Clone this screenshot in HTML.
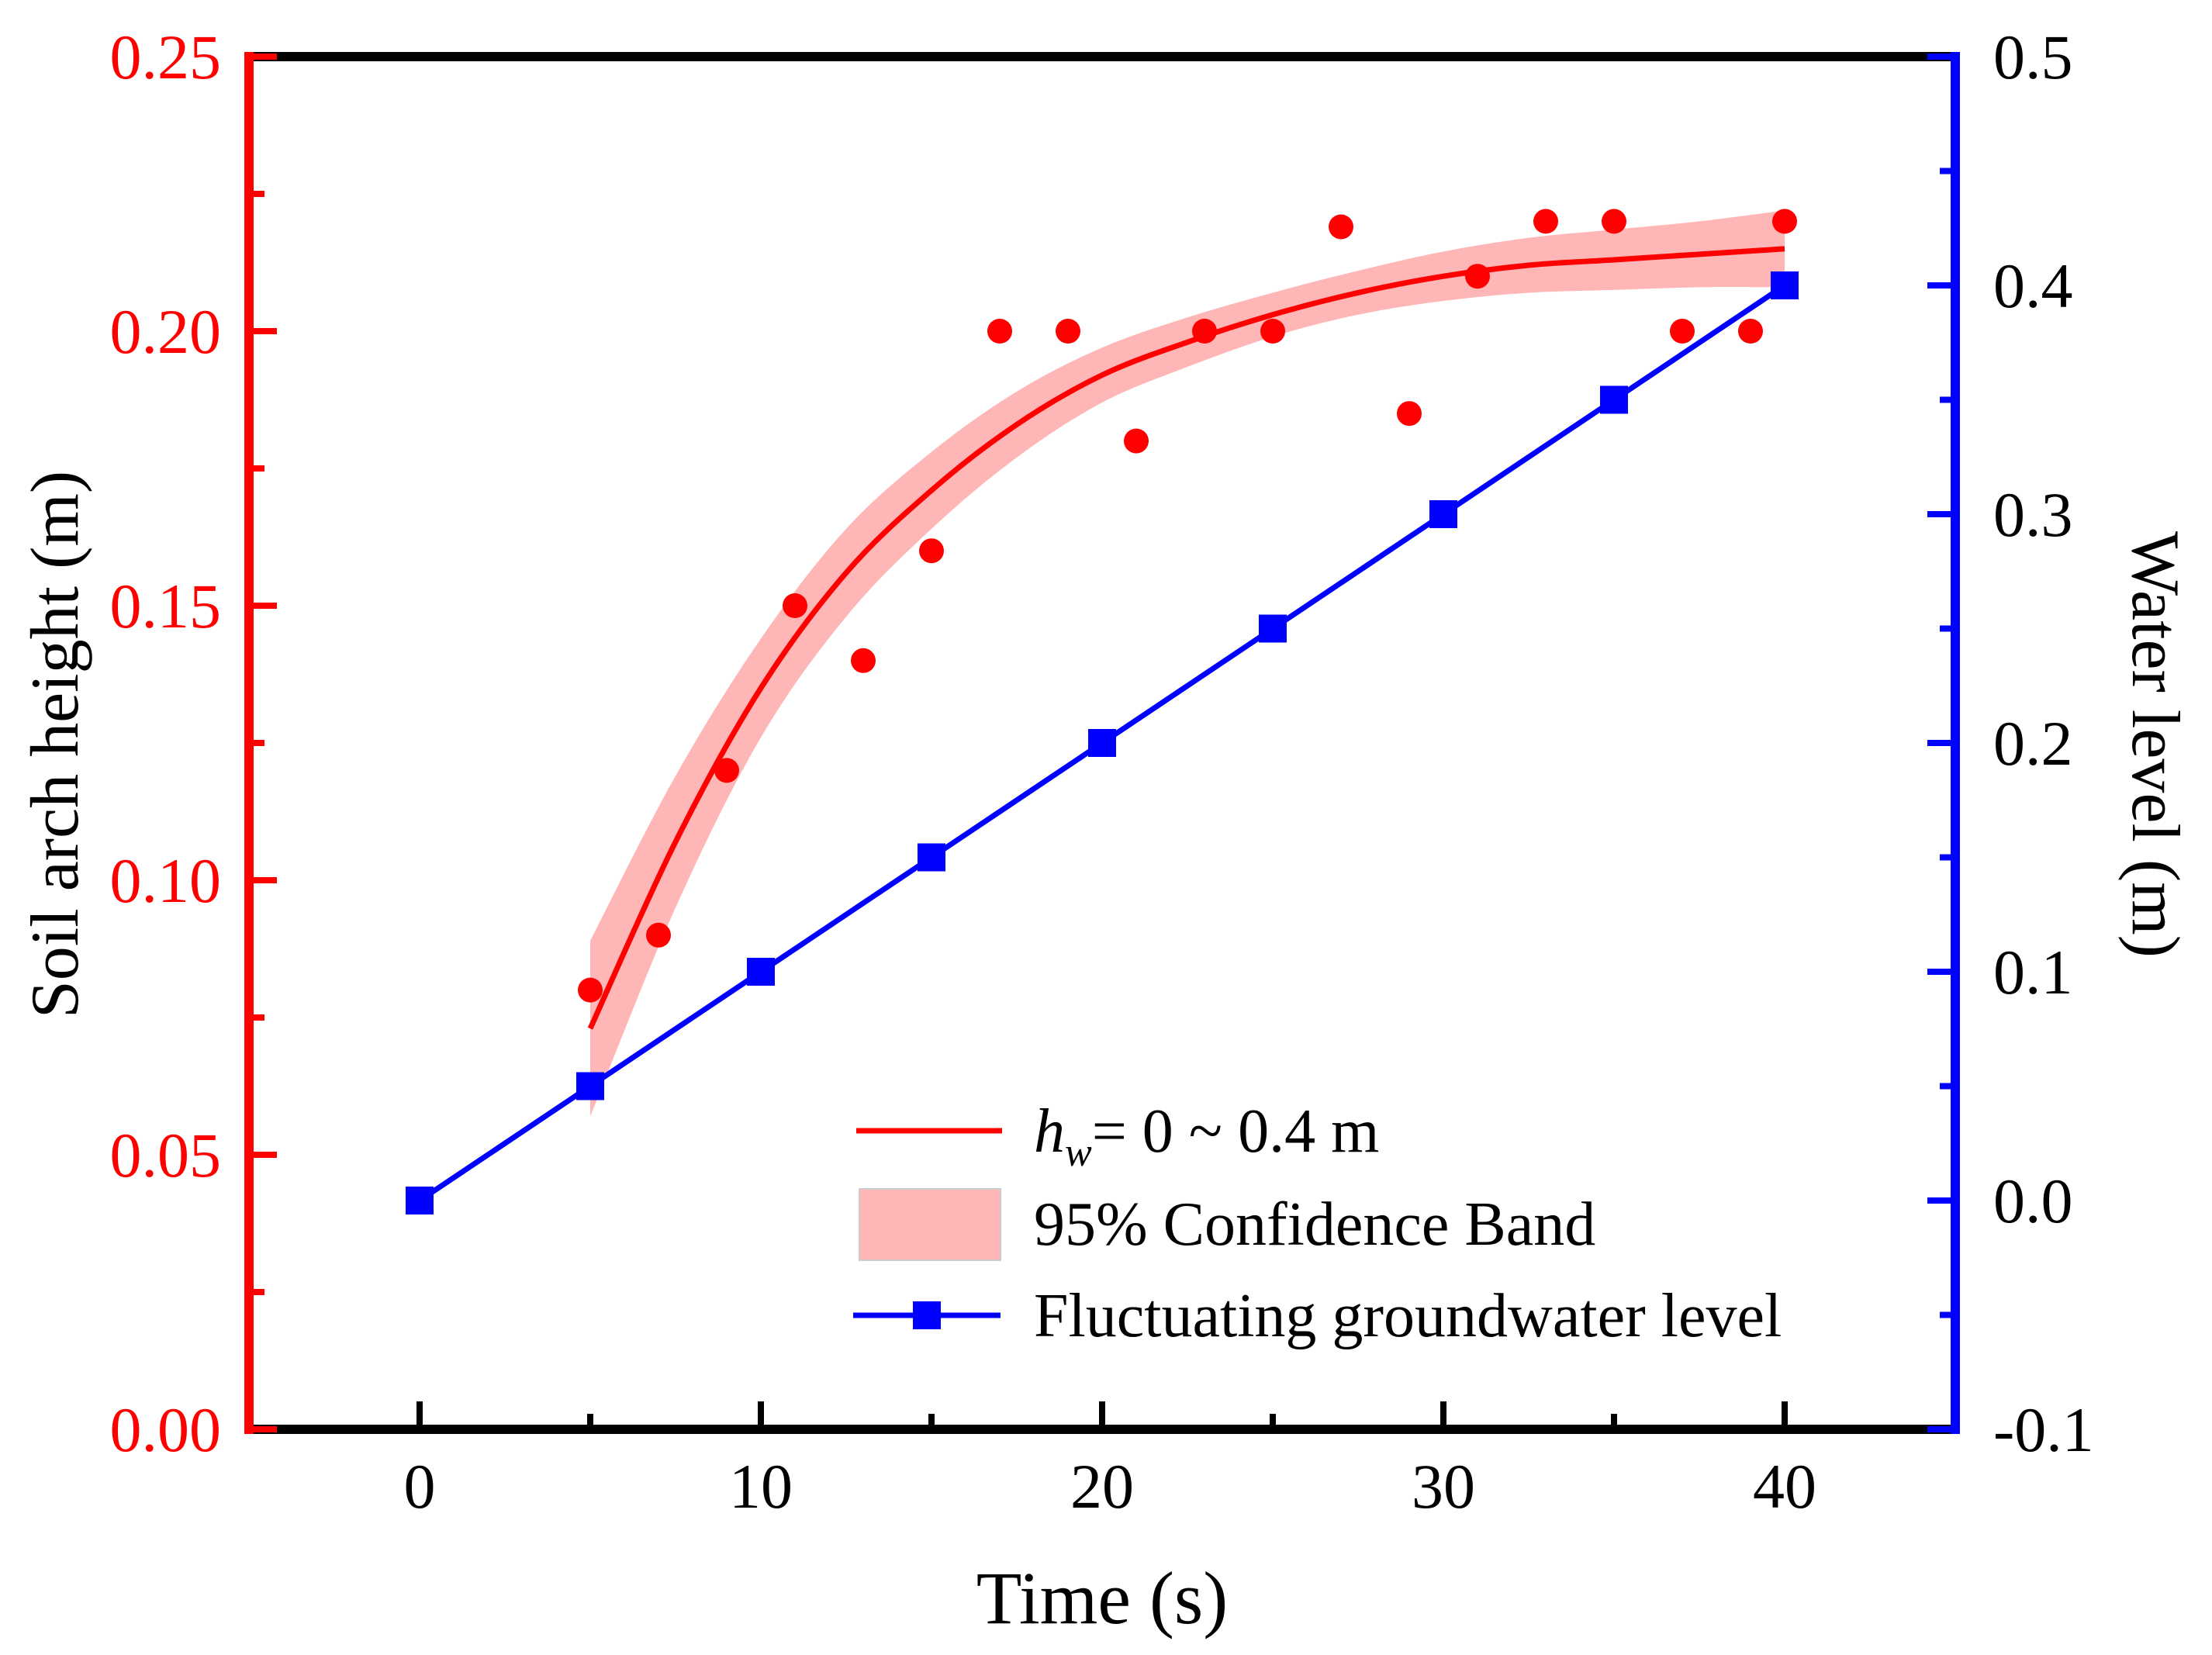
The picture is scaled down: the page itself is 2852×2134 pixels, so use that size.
<!DOCTYPE html>
<html><head><meta charset="utf-8"><style>
html,body{margin:0;padding:0;background:#fff;}
svg{display:block;font-family:"Liberation Serif",serif;}
</style></head><body>
<svg id="chart" width="2852" height="2134" viewBox="0 0 2852 2134" xmlns="http://www.w3.org/2000/svg">
<rect x="0" y="0" width="2852" height="2134" fill="#fff"/>
<g id="plot"></g>
<g id="axes"></g>
<text x="1421" y="2093" font-size="96" text-anchor="middle">Time (s)</text>
<text transform="translate(100,960) rotate(-90)" font-size="88" text-anchor="middle">Soil arch height (m)</text>
<text transform="translate(2750,960) rotate(90)" font-size="88" text-anchor="middle">Water level (m)</text>
<g>
  <line x1="1104" y1="1458" x2="1292" y2="1458" stroke="#f00" stroke-width="7"/>
  <text x="1333" y="1485" font-size="80"><tspan font-style="italic">h</tspan><tspan font-style="italic" font-size="52" dy="18">w</tspan><tspan dy="-18">= 0 ~ 0.4 m</tspan></text>
  <rect x="1108" y="1533" width="182" height="92" fill="#ffb6b6" stroke="#ccc" stroke-width="2"/>
  <text x="1333" y="1605" font-size="80">95% Confidence Band</text>
  <line x1="1100" y1="1696" x2="1290" y2="1696" stroke="#00f" stroke-width="7"/>
  <rect x="1177" y="1678" width="36" height="36" fill="#00f"/>
  <text x="1333" y="1723" font-size="80">Fluctuating groundwater level</text>
</g>
</svg>
<script>
const scatterX = [5,7,9,11,13,15,17,19,21,23,25,27,29,31,33,35,37,39,40];
const scatterY = [0.08,0.09,0.12,0.15,0.14,0.16,0.20,0.20,0.18,0.20,0.20,0.219,0.185,0.21,0.22,0.22,0.20,0.20,0.22];
const fitX = [5,7.5,10,12.5,15,17.5,20,22.5,25,27.5,30,32.5,35,37.5,40];
const fitY = [0.073,0.107,0.135,0.156,0.171,0.183,0.192,0.198,0.203,0.207,0.210,0.212,0.213,0.214,0.215];
const bandUpper = [0.089,0.119,0.144,0.164,0.178,0.189,0.197,0.2025,0.207,0.211,0.2145,0.217,0.2185,0.220,0.222];
const bandLower = [0.057,0.095,0.126,0.148,0.164,0.177,0.187,0.1935,0.199,0.203,0.2055,0.207,0.2075,0.208,0.208];
const waterX = [0,5,10,15,20,25,30,35,40];
const waterY = [0,0.05,0.1,0.15,0.2,0.25,0.3,0.35,0.4];
const xTicks = [0,10,20,30,40];
const xTickLabels = ["0","10","20","30","40"];
const leftTicks = [0,0.05,0.10,0.15,0.20,0.25];
const leftTickLabels = ["0.00","0.05","0.10","0.15","0.20","0.25"];
const rightTicks = [-0.1,0,0.1,0.2,0.3,0.4,0.5];
const rightTickLabels = ["-0.1","0.0","0.1","0.2","0.3","0.4","0.5"];

const PL=321,PR=2521,PT=73,PB=1843;
const X0=-5,X1=45;
const sx=v=>PL+(v-X0)/(X1-X0)*(PR-PL);
const syL=v=>PB-(v-0)/0.25*(PB-PT);
const syR=v=>PB-(v+0.1)/0.6*(PB-PT);
const NS="http://www.w3.org/2000/svg";
function mk(tag,attrs,parent){const e=document.createElementNS(NS,tag);for(const k in attrs)e.setAttribute(k,attrs[k]);parent.appendChild(e);return e;}
const plotG=document.getElementById('plot'), axesG=document.getElementById('axes');

function smooth(pts){
  let d=`M${pts[0][0]},${pts[0][1]}`;
  for(let i=0;i<pts.length-1;i++){
    const p0=pts[Math.max(0,i-1)],p1=pts[i],p2=pts[i+1],p3=pts[Math.min(pts.length-1,i+2)];
    const c1=[p1[0]+(p2[0]-p0[0])/6,p1[1]+(p2[1]-p0[1])/6];
    const c2=[p2[0]-(p3[0]-p1[0])/6,p2[1]-(p3[1]-p1[1])/6];
    d+=` C${c1[0]},${c1[1]} ${c2[0]},${c2[1]} ${p2[0]},${p2[1]}`;
  }
  return d;
}
const up=fitX.map((x,i)=>[sx(x),syL(bandUpper[i])]);
const lo=fitX.map((x,i)=>[sx(x),syL(bandLower[i])]).reverse();
const bd=smooth(up)+' L'+lo[0][0]+','+lo[0][1]+smooth(lo).replace(/^M[^C]*/,' ')+' Z';
const band=mk('path',{d:bd,fill:'#ffb6b6',stroke:'none'},plotG);


const fit=mk('path',{d:smooth(fitX.map((x,i)=>[sx(x),syL(fitY[i])])),fill:'none',stroke:'#f00','stroke-width':7},plotG);


const wl=mk('polyline',{points:waterX.map((x,i)=>sx(x)+','+syR(waterY[i])).join(' '),fill:'none',stroke:'#00f','stroke-width':7},plotG);


waterX.forEach((x,i)=>{
  const m=mk('rect',{x:sx(x)-18,y:syR(waterY[i])-18,width:36,height:36,fill:'#00f'},plotG);
  
  
});
scatterX.forEach((x,i)=>{
  const c=mk('circle',{cx:sx(x),cy:syL(scatterY[i]),r:16,fill:'#f00'},plotG);
  
  
});
const axTop=mk('line',{x1:PL,y1:PT,x2:PR,y2:PT,stroke:'#000','stroke-width':12},axesG);


const axBot=mk('line',{x1:PL,y1:PB,x2:PR,y2:PB,stroke:'#000','stroke-width':12},axesG);


const axLeft=mk('line',{x1:PL,y1:PT-6,x2:PL,y2:PB+6,stroke:'#f00','stroke-width':12},axesG);


const axRight=mk('line',{x1:PR,y1:PT-6,x2:PR,y2:PB+6,stroke:'#00f','stroke-width':12},axesG);


for(let v=0;v<=40;v+=5){
  const major=v%10===0;
  const t=mk('line',{x1:sx(v),y1:PB,x2:sx(v),y2:PB-(major?36:20),stroke:'#000','stroke-width':8},axesG);
  
  
}
xTicks.forEach((v,i)=>{
  const t=mk('text',{x:sx(v),y:1944,'font-size':82,'text-anchor':'middle',fill:'#000'},axesG);
  t.textContent=xTickLabels[i];
  
  
});
for(let k=0;k<=10;k++){
  const v=k*0.025, major=k%2===0;
  const t=mk('line',{x1:PL,y1:syL(v),x2:PL+(major?36:20),y2:syL(v),stroke:'#f00','stroke-width':8},axesG);
  
  
}
leftTicks.forEach((v,i)=>{
  const t=mk('text',{x:285,y:syL(v)+28,'font-size':82,'text-anchor':'end',fill:'#f00'},axesG);
  t.textContent=leftTickLabels[i];
  
  
});
for(let k=0;k<=12;k++){
  const v=-0.1+k*0.05, major=k%2===0;
  const t=mk('line',{x1:PR,y1:syR(v),x2:PR-(major?36:20),y2:syR(v),stroke:'#00f','stroke-width':8},axesG);
  
  
}
rightTicks.forEach((v,i)=>{
  const t=mk('text',{x:2570,y:syR(v)+28,'font-size':82,'text-anchor':'start',fill:'#000'},axesG);
  t.textContent=rightTickLabels[i];
  
  
});
</script>
</body></html>
